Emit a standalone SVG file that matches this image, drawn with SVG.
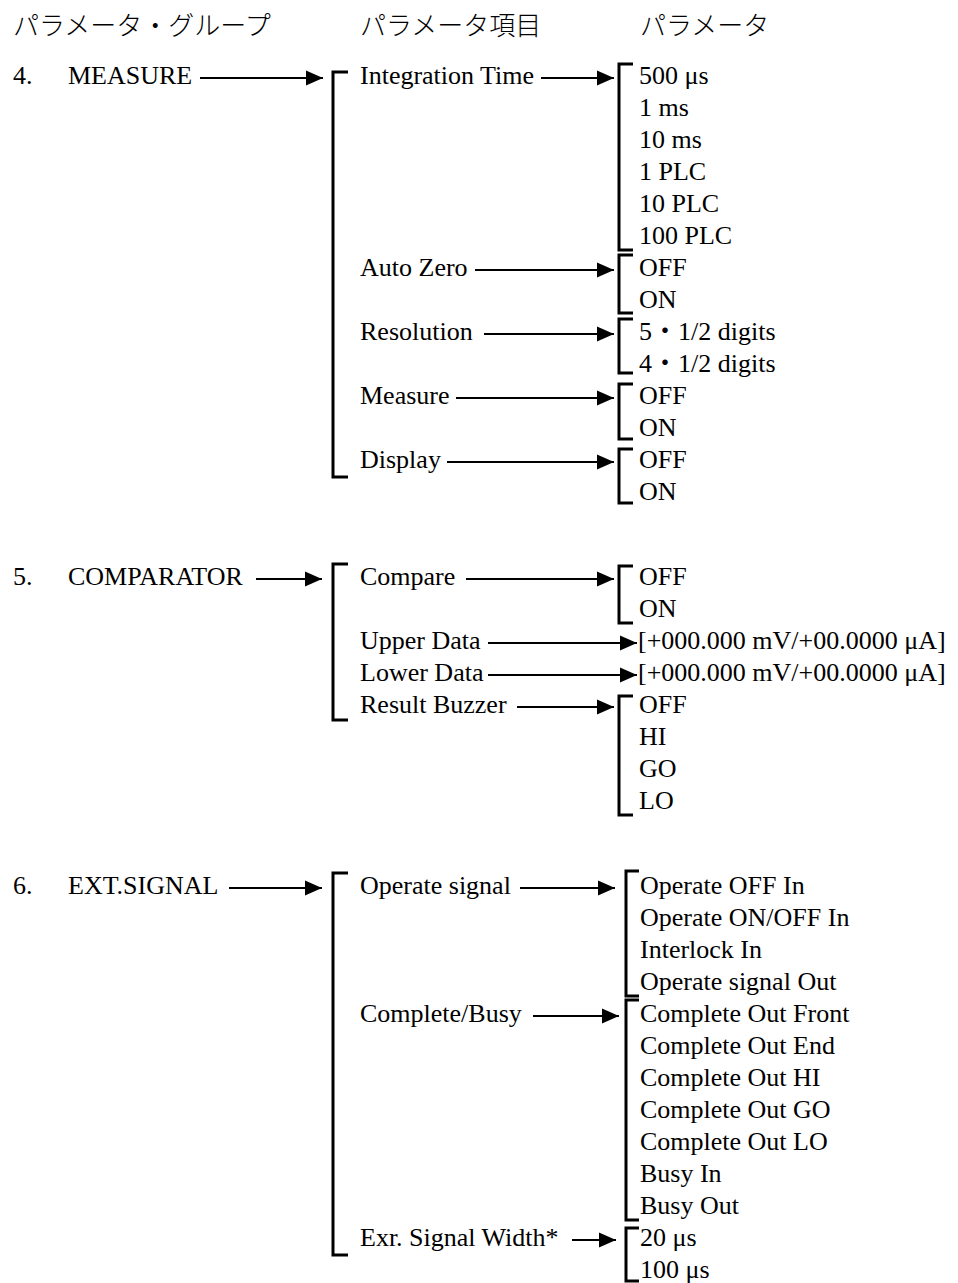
<svg xmlns="http://www.w3.org/2000/svg" width="958" height="1283" viewBox="0 0 958 1283">
  <style>
    text { font-family: "Liberation Serif", "Noto Sans CJK JP", serif; font-size: 26px; fill: #000; }
    .jp { font-family: "Noto Sans CJK JP", "Liberation Serif", sans-serif; font-weight: 300; }
    .br { fill: none; stroke: #000; stroke-width: 3; stroke-linejoin: miter; stroke-linecap: butt; }
    .ar { fill: none; stroke: #000; stroke-width: 2; marker-end: url(#head); }
  </style>
  <defs>
    <marker id="head" markerUnits="userSpaceOnUse" markerWidth="17" markerHeight="16" refX="17" refY="8" orient="auto" viewBox="0 0 17 16">
      <path d="M0,0.5 L17,8 L0,15.5 z" fill="#000"/>
    </marker>
  </defs>

  <rect width="958" height="1283" fill="#fff"/>

  <!-- column headings -->
  <g id="headings">
    <text class="jp" x="13" y="35">パラメータ・グループ</text>
    <text class="jp" x="360" y="35">パラメータ項目</text>
    <text class="jp" x="640" y="35">パラメータ</text>
  </g>

  <!-- 4. MEASURE -->
  <g id="group-measure">
    <text x="13" y="84">4.</text>
    <text x="68" y="84">MEASURE</text>
    <path class="br" d="M348,72 H333 V477 H348"/>
  </g>
  <g id="item-integration-time">
    <text x="360" y="84">Integration Time</text>
    <path class="br" d="M633,64 H619 V250 H633"/>
    <text x="639" y="84">500 μs</text>
    <text x="639" y="116">1 ms</text>
    <text x="639" y="148">10 ms</text>
    <text x="639" y="180">1 PLC</text>
    <text x="639" y="212">10 PLC</text>
    <text x="639" y="244">100 PLC</text>
  </g>
  <g id="item-auto-zero">
    <text x="360" y="276">Auto Zero</text>
    <path class="br" d="M633,255 H619 V313 H633"/>
    <text x="639" y="276">OFF</text>
    <text x="639" y="308">ON</text>
  </g>
  <g id="item-resolution">
    <text x="360" y="340">Resolution</text>
    <path class="br" d="M633,319 H619 V373 H633"/>
    <text x="639" y="340">5・1/2 digits</text>
    <text x="639" y="372">4・1/2 digits</text>
  </g>
  <g id="item-measure">
    <text x="360" y="404">Measure</text>
    <path class="br" d="M633,384 H619 V439 H633"/>
    <text x="639" y="404">OFF</text>
    <text x="639" y="436">ON</text>
  </g>
  <g id="item-display">
    <text x="360" y="468">Display</text>
    <path class="br" d="M633,449 H619 V503 H633"/>
    <text x="639" y="468">OFF</text>
    <text x="639" y="500">ON</text>
  </g>

  <!-- 5. COMPARATOR -->
  <g id="group-comparator">
    <text x="13" y="585">5.</text>
    <text x="68" y="585">COMPARATOR</text>
    <path class="br" d="M348,564 H333 V720 H348"/>
  </g>
  <g id="item-compare">
    <text x="360" y="585">Compare</text>
    <path class="br" d="M633,566 H619 V623 H633"/>
    <text x="639" y="585">OFF</text>
    <text x="639" y="617">ON</text>
  </g>
  <g id="item-upper-data">
    <text x="360" y="649">Upper Data</text>
    <text x="638" y="649">[+000.000 mV/+00.0000 μA]</text>
  </g>
  <g id="item-lower-data">
    <text x="360" y="681">Lower Data</text>
    <text x="638" y="681">[+000.000 mV/+00.0000 μA]</text>
  </g>
  <g id="item-result-buzzer">
    <text x="360" y="713">Result Buzzer</text>
    <path class="br" d="M633,696 H619 V815 H633"/>
    <text x="639" y="713">OFF</text>
    <text x="639" y="745">HI</text>
    <text x="639" y="777">GO</text>
    <text x="639" y="809">LO</text>
  </g>

  <!-- 6. EXT.SIGNAL -->
  <g id="group-ext-signal">
    <text x="13" y="894">6.</text>
    <text x="68" y="894">EXT.SIGNAL</text>
    <path class="br" d="M348,873 H333 V1255 H348"/>
  </g>
  <g id="item-operate-signal">
    <text x="360" y="894">Operate signal</text>
    <path class="br" d="M639,871 H626 V996 H639"/>
    <text x="640" y="894">Operate OFF In</text>
    <text x="640" y="926">Operate ON/OFF In</text>
    <text x="640" y="958">Interlock In</text>
    <text x="640" y="990">Operate signal Out</text>
  </g>
  <g id="item-complete-busy">
    <text x="360" y="1022">Complete/Busy</text>
    <path class="br" d="M639,1000 H626 V1220 H639"/>
    <text x="640" y="1022">Complete Out Front</text>
    <text x="640" y="1054">Complete Out End</text>
    <text x="640" y="1086">Complete Out HI</text>
    <text x="640" y="1118">Complete Out GO</text>
    <text x="640" y="1150">Complete Out LO</text>
    <text x="640" y="1182">Busy In</text>
    <text x="640" y="1214">Busy Out</text>
  </g>
  <g id="item-signal-width">
    <text x="360" y="1246">Exr. Signal Width*</text>
    <path class="br" d="M639,1228 H626 V1281 H639"/>
    <text x="640" y="1246">20 μs</text>
    <text x="640" y="1278">100 μs</text>
  </g>

  <!-- connectors -->
  <g id="connectors">
    <line class="ar" x1="200" y1="78" x2="323" y2="78"/>
    <line class="ar" x1="541" y1="78" x2="614" y2="78"/>
    <line class="ar" x1="475" y1="270" x2="614" y2="270"/>
    <line class="ar" x1="484" y1="334" x2="614" y2="334"/>
    <line class="ar" x1="456" y1="398" x2="614" y2="398"/>
    <line class="ar" x1="447" y1="462" x2="614" y2="462"/>

    <line class="ar" x1="256" y1="579" x2="322" y2="579"/>
    <line class="ar" x1="466" y1="579" x2="614" y2="579"/>
    <line class="ar" x1="488" y1="643" x2="637" y2="643"/>
    <line class="ar" x1="488" y1="675" x2="637" y2="675"/>
    <line class="ar" x1="517" y1="707" x2="614" y2="707"/>

    <line class="ar" x1="229" y1="888" x2="322" y2="888"/>
    <line class="ar" x1="520" y1="888" x2="615" y2="888"/>
    <line class="ar" x1="533" y1="1016" x2="619" y2="1016"/>
    <line class="ar" x1="572" y1="1240" x2="616" y2="1240"/>
  </g>
</svg>
